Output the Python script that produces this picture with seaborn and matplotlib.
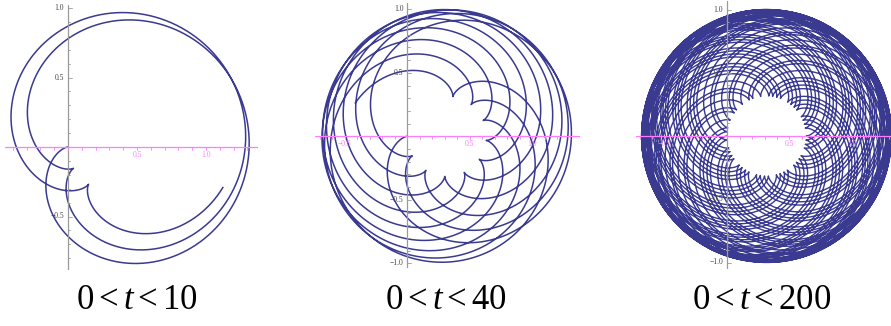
import numpy as np
import pandas as pd
import matplotlib
matplotlib.use("Agg")
import matplotlib.pyplot as plt
import seaborn as sns

# time ranges of the three panels and their captions
t_max = [10, 40, 200]
captions = [r"$0<t<10$", r"$0<t<40$", r"$0<t<200$"]

# curve: epicycloid-like orbit
r_inner = 0.3163      # radius of the cusp circle (centre sits at x = r_inner)
r_roll = 0.3418       # radius of the rolling circle  (outer radius = r_inner + 2*r_roll)
w_slow = 1.5735       # slow angular rate
w_fast = w_slow * (r_inner + r_roll) / r_roll

# axis ticks
y_ticks = [1.0, 0.5, -0.5, -1.0]
x_ticks = [-0.5, 0.5, 1.0]

# panel placement in pixels: x of origin, px per unit x, y of origin, px per unit y, xlim, ylim
panels = [
    dict(x0=68, sx=138, y0=147, sy=139, xlim=(-0.457, 1.377), ylim=(-0.885, 1.02)),
    dict(x0=407.3, sx=125, y0=136.3, sy=127, xlim=(-0.74, 1.38), ylim=(-1.04, 1.05)),
    dict(x0=727, sx=125, y0=136, sy=126.5, xlim=(-0.73, 1.31), ylim=(-1.05, 1.065)),
]
caption_x = [137, 446, 762]

sns.set_style("white")
plt.rcParams["mathtext.fontset"] = "custom"
plt.rcParams["mathtext.rm"] = "Liberation Serif"
plt.rcParams["mathtext.it"] = "Liberation Serif:italic"

W, H = 891, 326
fig = plt.figure(figsize=(W / 100, H / 100), dpi=100)

line_col = "#3a3a90"
mag = "#ff7cff"

for i, (tm, pn) in enumerate(zip(t_max, panels)):
    left = pn["x0"] + pn["xlim"][0] * pn["sx"]
    right = pn["x0"] + pn["xlim"][1] * pn["sx"]
    top = pn["y0"] - pn["ylim"][1] * pn["sy"]
    bottom = pn["y0"] - pn["ylim"][0] * pn["sy"]
    ax = fig.add_axes([left / W, 1 - bottom / H, (right - left) / W, (bottom - top) / H])

    t = np.linspace(0, tm, int(tm * 250))
    z = r_inner - (r_inner + r_roll) * np.exp(1j * w_slow * t) + r_roll * np.exp(1j * w_fast * t)
    df = pd.DataFrame({"x": z.real, "y": z.imag})
    sns.lineplot(data=df, x="x", y="y", sort=False, estimator=None, ax=ax,
                 color=line_col, lw=1.1 if i < 2 else 1.0, zorder=2)

    ax.set_xlim(pn["xlim"])
    ax.set_ylim(pn["ylim"])
    ax.set_axis_off()

    # vertical axis (grey) with small ticks
    ax.axvline(0, color="#9a9a9a", lw=0.9, zorder=3)
    dx = 3 / pn["sx"]
    for yv in np.arange(-1.0, 1.01, 0.1):
        if pn["ylim"][0] < yv < pn["ylim"][1]:
            ax.plot([0, dx * (1.3 if abs(yv * 2 - round(yv * 2)) < 1e-6 else 0.8)], [yv, yv],
                    color="#9a9a9a", lw=0.6, zorder=3)
    for yv in y_ticks:
        if pn["ylim"][0] < yv < pn["ylim"][1]:
            ax.text(-4 / pn["sx"], yv, f"{yv:.1f}".replace("-", "\u2212"), ha="right", va="center",
                    fontsize=5.5, family="Liberation Serif", color="#444444", zorder=4)

    # horizontal axis (magenta) with small ticks
    ax.axhline(0, color=mag, lw=0.9, zorder=3)
    dy = 3 / pn["sy"]
    for xv in np.arange(-1.0, 1.41, 0.1):
        if pn["xlim"][0] < xv < pn["xlim"][1]:
            ax.plot([xv, xv], [0, -dy], color=mag, lw=0.6, zorder=3)
    for xv in x_ticks:
        if pn["xlim"][0] < xv < pn["xlim"][1]:
            ax.text(xv, -4 / pn["sy"], f"{xv:.1f}".replace("-", "\u2212"), ha="center", va="top",
                    fontsize=5.5, family="Liberation Serif", color=mag, zorder=4)

    fig.text(caption_x[i] / W, 1 - 299 / H, captions[i], ha="center", va="center",
             fontsize=25, color="black")

fig.savefig("out.png", dpi=100)
